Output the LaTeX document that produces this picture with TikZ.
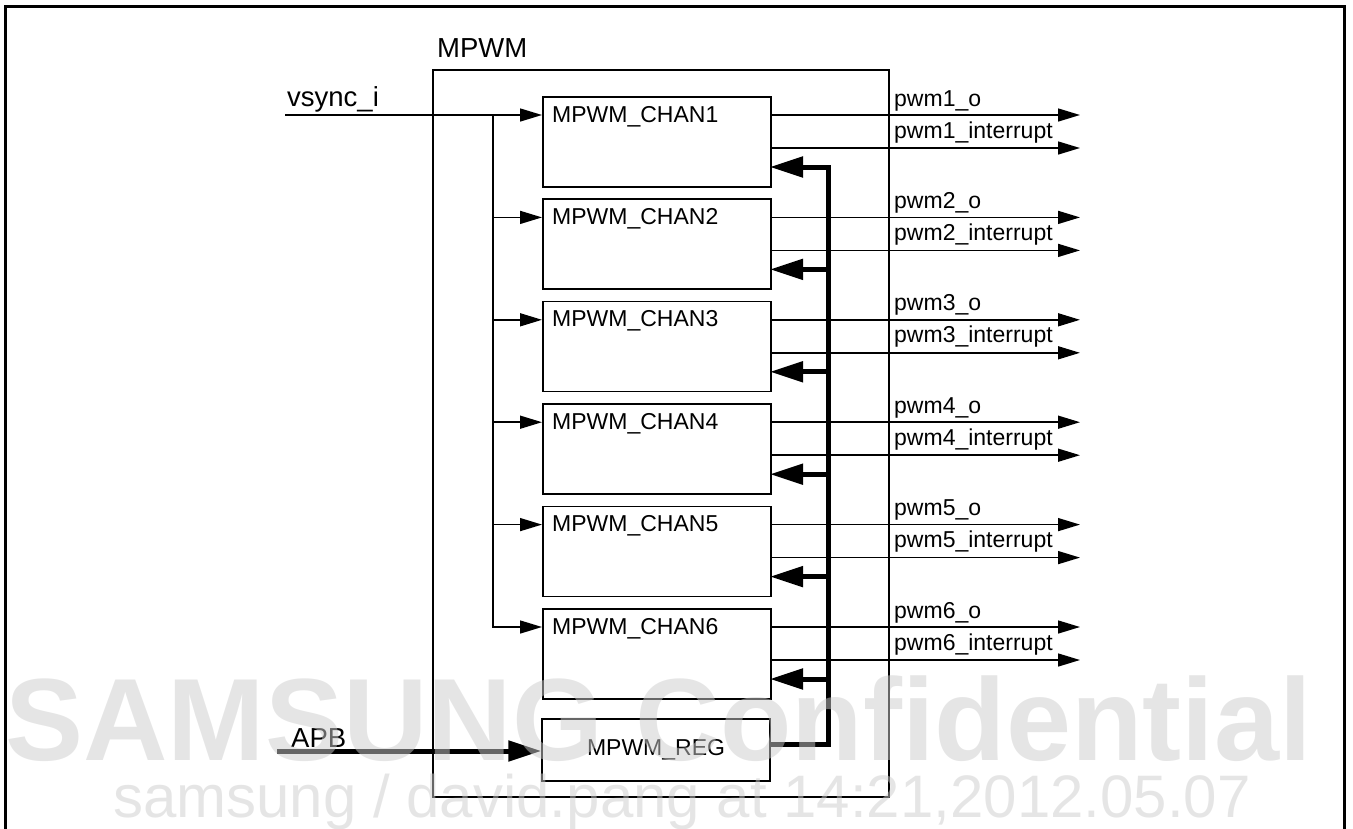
\documentclass[tikz,border=0pt]{standalone}
\usepackage{fontspec}
\setmainfont{Liberation Sans}
\usetikzlibrary{arrows.meta}
\tikzset{
  blk/.style={draw, line width=1.5pt, inner sep=0pt},
  chanbox/.style={blk, anchor=north west, minimum width=228pt, minimum height=90pt},
  txt/.style={inner sep=0pt, anchor=base west, font=\fontsize{23}{27}\selectfont},
  bigtxt/.style={inner sep=0pt, anchor=base west, font=\fontsize{27.5}{32}\selectfont},
  wire/.style={line width=1.5pt},
  sig/.style={wire, -{Triangle[length=22pt,width=13pt]}},
  busline/.style={line width=5pt, -{Triangle[length=33pt,width=20pt]}},
  wmark/.style={inner sep=0pt, anchor=base west, text=black!20, text opacity=0.5}
}
\begin{document}
\begin{tikzpicture}[x=1pt,y=-1pt]
\useasboundingbox (0,0) rectangle (1353,828);
\draw[line width=3pt] (5,840) -- (5,6) -- (1344,6) -- (1344,840);
\node[blk, anchor=north west, minimum width=456pt, minimum height=727pt] (mpwm) at (432,69) {};
\node[bigtxt] (mpwm-lbl) at (437,57) {MPWM};
\coordinate (vsync) at (285,115);
\coordinate (split) at (493,115);
\node[bigtxt] (vsync-lbl) at (287,106) {vsync\_i};
\foreach \i in {1,...,6} {
  \pgfmathsetmacro\T{96+102.4*(\i-1)}
  \node[chanbox] (chan\i) at (542,\T) {};
  \node[txt] (chan\i-lbl) at (552,{\T+26}) {MPWM\_CHAN\i};
  \node[txt] (pwm\i-o-lbl) at (894,{\T+10}) {pwm\i\_o};
  \node[txt] (pwm\i-int-lbl) at (894,{\T+42}) {pwm\i\_interrupt};
  \coordinate (chan\i-in) at (542,{\T+19});
  \coordinate (chan\i-o) at (770,{\T+19});
  \coordinate (chan\i-int) at (770,{\T+52});
  \coordinate (chan\i-cfg) at (770,{\T+71});
  \coordinate (pwm\i-o) at (1080,{\T+19});
  \coordinate (pwm\i-int) at (1080,{\T+52});
  \coordinate (bus\i) at (828,{\T+71});
  \draw[sig] (chan\i-o) -- (pwm\i-o);
  \draw[sig] (chan\i-int) -- (pwm\i-int);
}
\node[blk, minimum width=228pt, minimum height=62pt, font=\fontsize{23}{27}\selectfont] (reg) at (656,750) {MPWM\_REG};
\coordinate (reg-out) at ([yshift=6pt]reg.east);
\coordinate (apb) at (277,751);
\node[bigtxt] (apb-lbl) at (291,747) {APB};
\draw[sig] (vsync) -- (chan1-in);
\foreach \i in {2,...,6} \draw[sig] (split) |- (chan\i-in);
\draw[busline] (reg-out) -| (bus1) -- (chan1-cfg);
\foreach \i in {2,...,6} \draw[busline] (bus\i) -- (chan\i-cfg);
\draw[busline] (apb) -- (apb -| reg.west);
\node[wmark, font=\fontsize{117}{120}\selectfont\bfseries] (wm-big) at (5,760) {SAMSUNG Confidential};
\node[wmark, font=\fontsize{60}{63}\selectfont] (wm-small) at (113,817) {samsung / david.pang at 14:21,2012.05.07};
\end{tikzpicture}
\end{document}
